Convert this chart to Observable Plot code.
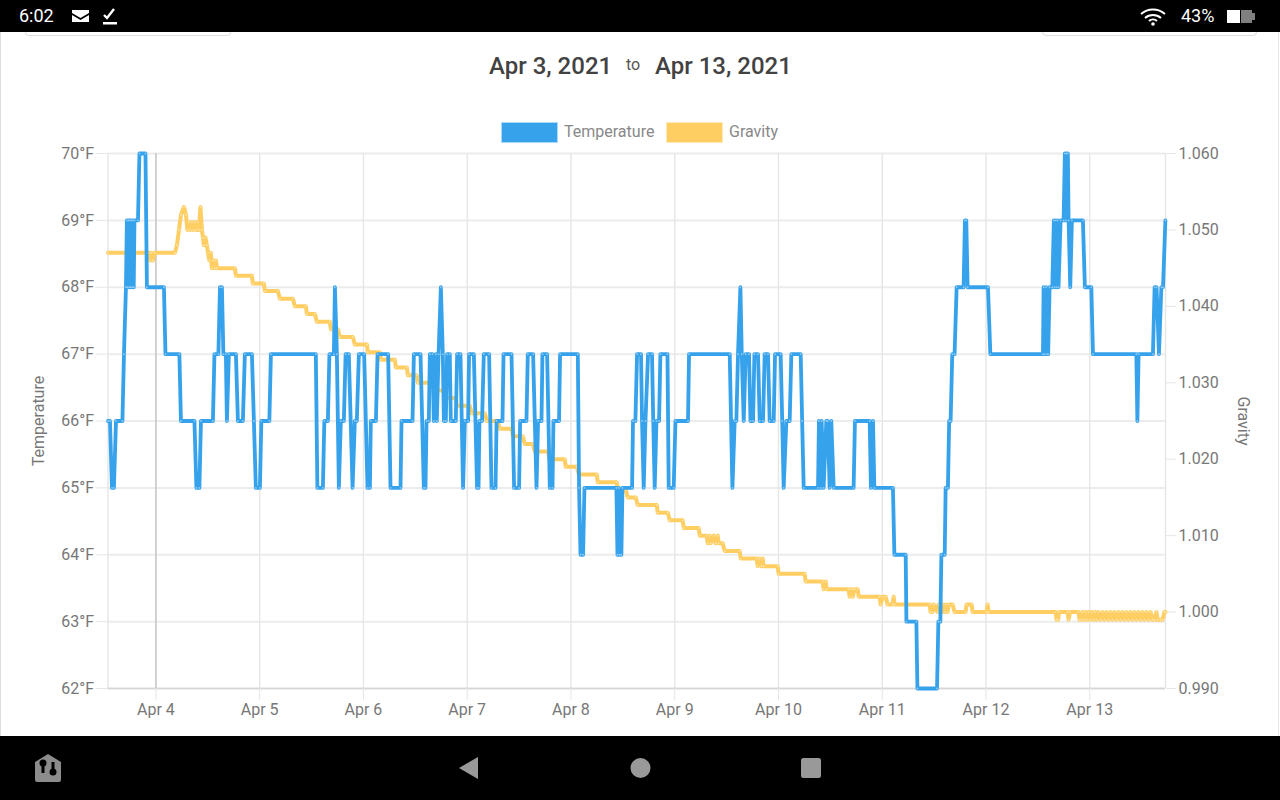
<!DOCTYPE html>
<html><head><meta charset="utf-8">
<script src="https://cdn.jsdelivr.net/npm/d3@7"></script>
<script src="https://cdn.jsdelivr.net/npm/@observablehq/plot@0.6"></script>
<style>
html,body{margin:0;padding:0;background:#fff;width:1280px;height:800px;overflow:hidden;font-family:Roboto,sans-serif}
.a{position:absolute;white-space:nowrap}
#page{position:relative;width:1280px;height:800px;overflow:hidden}
#chart{position:absolute;left:0;top:100px}
#chart svg{display:block;overflow:visible}
</style></head><body>
<div id="page">
<div class="a" style="left:0;top:32px;width:1px;height:704px;background:#ddd"></div>
<div class="a" style="left:1278px;top:32px;width:1px;height:704px;background:#e4e4e4"></div>
<div class="a" style="left:25px;top:26px;width:204px;height:8px;border:1px solid #ddd;border-radius:4px"></div>
<div class="a" style="left:1042px;top:26px;width:213px;height:8px;border:1px solid #ddd;border-radius:4px"></div>
<div class="a" style="left:0;top:0;width:1280px;height:32px;background:#000"></div>
<div class="a" style="left:0;top:736px;width:1280px;height:64px;background:#000"></div>
<div class="a" style="left:19px;top:5px;color:#fff;font-size:18px;line-height:22px">6:02</div>
<div class="a" style="left:1181px;top:5px;color:#fff;font-size:18px;line-height:22px">43%</div>
<svg class="a" style="left:0;top:0" width="1280" height="32">
<path d="M72 10h17v3l-8.5 5-8.5-5z M72 15l8.500 5 8.500-5v7h-17z" fill="#fff"/>
<path d="M104 15l3 3 7-9" fill="none" stroke="#fff" stroke-width="2.400"/><rect x="103" y="22" width="14" height="2.500" fill="#fff"/>
<g fill="none" stroke="#fff" stroke-width="2"><path d="M1141 14a18 18 0 0 1 24 0"/><path d="M1145 18a12 12 0 0 1 16 0"/><path d="M1149 21a6 6 0 0 1 8 0"/></g><circle cx="1153" cy="24" r="1.800" fill="#fff"/>
<rect x="1227" y="10" width="13" height="13" fill="#fff"/><path d="M1241 10h11v3h3v7h-3v3h-11z" fill="#808080"/>
</svg>
<svg class="a" style="left:0;top:736px" width="1280" height="64">
<path d="M35 26l13-8 13 8v18a2 2 0 0 1-2 2h-22a2 2 0 0 1-2-2z" fill="#8c8c8c"/>
<circle cx="43" cy="27" r="3.500" fill="#000"/><rect x="41.500" y="27" width="3" height="10" fill="#000"/>
<circle cx="53" cy="36" r="3.500" fill="#000"/><rect x="51.500" y="26" width="3" height="10" fill="#000"/>
<path d="M459 32l19-11v22z" fill="#999"/><circle cx="640.500" cy="32" r="10" fill="#999"/><rect x="801" y="22" width="20" height="20" rx="2.500" fill="#999"/>
</svg>
<div class="a" style="left:489px;top:51px;font-size:24px;line-height:30px;font-weight:500;color:#424242">Apr 3, 2021</div>
<div class="a" style="left:626px;top:55px;font-size:16px;line-height:20px;color:#555">to</div>
<div class="a" style="left:655px;top:51px;font-size:24px;line-height:30px;font-weight:500;color:#424242">Apr 13, 2021</div>
<div class="a" style="left:501px;top:122px;width:55px;height:19px;background:#36a2eb;border:1px solid #a9d9f8"></div>
<div class="a" style="left:564px;top:122px;font-size:16px;line-height:20px;color:#888">Temperature</div>
<div class="a" style="left:666px;top:122px;width:55px;height:19px;background:#ffce62;border:1px solid #ffe9b8"></div>
<div class="a" style="left:729px;top:122px;font-size:16px;line-height:20px;color:#888">Gravity</div>
<div id="chart"></div>
</div>
<script>
// Readings: [day of April 2021 with fraction, value]
const temperatureReadings = [
[3.538,66],[3.557,66],[3.576,65],[3.595,65],[3.615,66],[3.677,66],[3.692,67],[3.711,68],[3.720,69],[3.727,68],[3.735,69],[3.743,68],[3.750,69],[3.757,68],[3.764,69],[3.771,68],[3.778,69],[3.786,68],[3.793,69],[3.827,69],[3.841,70],[3.899,70],[3.913,68],
[4.077,68],[4.092,67],[4.226,67],[4.241,66],[4.371,66],[4.390,65],[4.419,65],[4.434,66],[4.549,66],[4.564,67],[4.602,67],[4.617,68],[4.636,68],[4.650,67],[4.674,67],[4.684,66],[4.703,67],[4.771,67],[4.790,66],[4.838,66],[4.857,67],[4.925,67],[4.944,66],[4.963,65],
[5.002,65],[5.016,66],[5.093,66],[5.108,67],[5.541,67],[5.556,65],[5.609,65],[5.623,66],[5.657,66],[5.672,67],[5.715,67],[5.725,68],[5.744,67],[5.763,65],[5.782,66],[5.811,66],[5.828,67],[5.859,67],[5.895,65],[5.917,66],[5.936,66],[5.956,67],
[6.007,67],[6.039,65],[6.062,65],[6.071,66],[6.120,66],[6.136,67],[6.238,67],[6.261,65],[6.357,65],[6.367,66],[6.473,66],[6.486,67],[6.550,67],[6.582,65],[6.598,65],[6.608,66],[6.630,66],[6.640,67],[6.666,67],[6.678,66],[6.698,67],[6.707,66],[6.724,67],[6.746,68],[6.765,67],[6.775,66],[6.794,66],[6.806,67],[6.832,67],[6.842,66],[6.890,66],[6.903,67],[6.935,67],[6.960,65],[6.977,66],
[7.009,66],[7.018,67],[7.064,67],[7.095,65],[7.109,65],[7.118,66],[7.143,66],[7.160,67],[7.211,67],[7.234,65],[7.273,65],[7.283,66],[7.340,66],[7.350,67],[7.427,67],[7.452,65],[7.500,65],[7.510,66],[7.571,66],[7.584,67],[7.635,67],[7.668,65],[7.683,66],[7.716,66],[7.725,67],[7.770,67],[7.796,65],[7.822,65],[7.831,66],[7.885,66],[7.895,67],
[8.066,67],[8.078,65],[8.092,64],[8.117,64],[8.130,65],[8.438,65],[8.448,64],[8.460,65],[8.470,64],[8.486,64],[8.496,65],[8.589,65],[8.598,66],[8.621,66],[8.637,67],[8.675,67],[8.685,66],[8.701,65],[8.718,66],[8.743,67],[8.781,67],[8.793,66],[8.807,65],[8.824,66],[8.849,66],[8.862,67],[8.930,67],[8.942,65],[8.990,65],
[9.007,66],[9.128,66],[9.138,67],[9.530,67],[9.556,65],[9.578,66],[9.594,66],[9.610,67],[9.633,68],[9.646,67],[9.665,66],[9.684,67],[9.716,67],[9.730,66],[9.755,66],[9.768,67],[9.803,67],[9.819,66],[9.851,66],[9.867,67],[9.899,67],[9.915,66],[9.954,66],[9.967,67],
[10.021,67],[10.036,66],[10.050,65],[10.076,66],[10.108,66],[10.124,67],[10.214,67],[10.228,66],[10.243,65],[10.381,65],[10.390,66],[10.407,65],[10.416,66],[10.435,65],[10.461,66],[10.474,66],[10.493,65],[10.509,66],[10.532,65],[10.724,65],[10.737,66],[10.879,66],[10.891,65],[10.911,66],[10.924,65],
[11.103,65],[11.117,64],[11.226,64],[11.233,63],[11.329,63],[11.339,62],[11.528,62],[11.541,63],[11.560,63],[11.570,64],[11.602,64],[11.611,65],[11.633,65],[11.645,66],[11.659,66],[11.675,67],[11.697,67],[11.717,68],[11.784,68],[11.797,69],[11.810,69],[11.823,68],
[12.019,68],[12.042,67],[12.549,67],[12.555,68],[12.568,67],[12.579,68],[12.589,67],[12.599,67],[12.613,68],[12.639,68],[12.654,69],[12.661,68],[12.671,69],[12.680,68],[12.690,69],[12.699,68],[12.719,69],[12.748,69],[12.760,70],[12.770,69],[12.777,70],[12.789,70],[12.796,69],[12.812,68],[12.828,69],[12.934,69],[12.953,68],
[13.015,68],[13.031,67],[13.449,67],[13.459,66],[13.471,67],[13.609,67],[13.625,68],[13.644,68],[13.667,67],[13.690,68],[13.706,68],[13.729,69]
];
const gravityReadings = [
[3.538,1.047],[3.933,1.047],[3.942,1.046],[3.957,1.047],[3.971,1.046],[3.986,1.047],[4.183,1.047],[4.202,1.048],[4.222,1.050],[4.241,1.052],[4.270,1.053],[4.289,1.052],[4.303,1.050],[4.318,1.051],[4.332,1.050],[4.347,1.051],[4.361,1.050],[4.376,1.051],[4.390,1.050],[4.405,1.051],[4.414,1.050],[4.429,1.053],[4.443,1.050],[4.453,1.049],[4.462,1.048],[4.477,1.049],[4.491,1.048],[4.501,1.047],[4.515,1.046],[4.530,1.047],[4.539,1.045],[4.554,1.046],[4.568,1.045],[4.578,1.046],[4.588,1.045],[4.761,1.045],[4.771,1.044],[4.925,1.044],[4.934,1.043],
[5.040,1.043],[5.050,1.042],[5.175,1.042],[5.195,1.041],[5.320,1.041],[5.339,1.040],[5.445,1.040],[5.455,1.039],[5.532,1.039],[5.551,1.038],[5.676,1.038],[5.686,1.037],[5.753,1.037],[5.773,1.036],[5.898,1.036],[5.917,1.035],
[6.033,1.035],[6.042,1.034],[6.158,1.034],[6.168,1.033],[6.303,1.033],[6.312,1.032],[6.418,1.032],[6.428,1.031],[6.514,1.031],[6.524,1.030],[6.669,1.030],[6.697,1.029],[6.784,1.029],[6.794,1.028],[6.890,1.028],[6.900,1.027],
[7.025,1.027],[7.044,1.026],[7.170,1.026],[7.189,1.025],[7.295,1.025],[7.314,1.024],[7.430,1.024],[7.439,1.023],[7.536,1.023],[7.555,1.022],[7.632,1.022],[7.651,1.021],[7.777,1.021],[7.796,1.020],[7.940,1.020],[7.950,1.019],
[8.056,1.019],[8.075,1.018],[8.249,1.018],[8.258,1.017],[8.441,1.017],[8.451,1.016],[8.528,1.016],[8.547,1.015],[8.624,1.015],[8.644,1.014],[8.827,1.014],[8.836,1.013],[8.933,1.013],[8.952,1.012],
[9.077,1.012],[9.087,1.011],[9.231,1.011],[9.241,1.010],[9.308,1.010],[9.318,1.009],[9.337,1.010],[9.347,1.009],[9.376,1.010],[9.395,1.009],[9.414,1.010],[9.424,1.009],[9.462,1.009],[9.482,1.008],[9.626,1.008],[9.636,1.007],[9.790,1.007],[9.800,1.006],[9.819,1.007],[9.838,1.006],[9.848,1.007],[9.857,1.006],[9.992,1.006],
[10.002,1.005],[10.252,1.005],[10.262,1.004],[10.426,1.004],[10.435,1.003],[10.455,1.004],[10.464,1.003],[10.676,1.003],[10.686,1.002],[10.705,1.003],[10.715,1.002],[10.734,1.003],[10.763,1.003],[10.773,1.002],[10.975,1.002],[10.985,1.001],
[11.004,1.002],[11.033,1.002],[11.052,1.001],[11.100,1.001],[11.110,1.002],[11.119,1.001],[11.457,1.001],[11.466,1.000],[11.486,1.000],[11.495,1.001],[11.534,1.000],[11.543,1.001],[11.563,1.001],[11.572,1.000],[11.582,1.001],[11.601,1.000],[11.611,1.001],[11.630,1.000],[11.640,1.001],[11.678,1.001],[11.697,1.000],[11.803,1.000],[11.813,1.001],[11.861,1.001],[11.871,1.000],
[12.006,1.000],[12.016,1.001],[12.025,1.000],[12.671,1.000],[12.680,0.999],[12.695,0.999],[12.704,1.000],[12.786,1.000],[12.796,0.999],[12.810,1.000],[12.892,1.000],[12.902,0.999],[12.921,0.999],[12.931,1.000],[12.945,0.999],[12.960,1.000],[12.974,0.999],[12.989,1.000],
[13.003,0.999],[13.018,1.000],[13.037,0.999],[13.052,1.000],[13.066,0.999],[13.085,1.000],[13.104,0.999],[13.124,1.000],[13.143,0.999],[13.162,1.000],[13.181,0.999],[13.201,1.000],[13.220,0.999],[13.239,1.000],[13.258,0.999],[13.278,1.000],[13.297,0.999],[13.316,1.000],[13.335,0.999],[13.354,1.000],[13.374,0.999],[13.393,1.000],[13.412,0.999],[13.431,1.000],[13.451,0.999],[13.470,1.000],[13.489,0.999],[13.508,1.000],[13.528,0.999],[13.547,1.000],[13.566,0.999],[13.586,1.000],[13.605,0.999],[13.624,0.999],[13.643,1.000],[13.653,0.999],[13.682,0.999],[13.701,0.999],[13.720,1.000],[13.730,1.000]
];
const dayTicks = [4,5,6,7,8,9,10,11,12,13];
const temperatureTicks = [62,63,64,65,66,67,68,69,70];
const gravityTicks = [0.990,1.000,1.010,1.020,1.030,1.040,1.050,1.060];
const dayRange = [3.538,13.730];
const markedDay = 4;

const BLUE="#36a2eb", YELLOW="#ffce62", GRIDY="#ececec", GRIDX="#e6e6e6", TEXT="#777";
const toDate = d => new Date(Date.UTC(2021,3,1) + (d-1)*864e5);
// The gravity axis shares the temperature scale: 0.990-1.060 spans 62-70 degrees.
const gravToTemp = g => 62 + (g-0.990)/0.070*8;
const tempToGrav = t => 0.990 + (t-62)/8*0.070;
const row = ([d,v]) => ({date:toDate(d), value:v});
const temps = temperatureReadings.map(row);
const gravs = gravityReadings.map(row).map(r => ({date:r.date, value:gravToTemp(r.value)}));
const dates = dayTicks.map(toDate);

const chart = Plot.plot({
  width:1280, height:636, marginTop:53, marginBottom:48, marginLeft:107.5, marginRight:115,
  style:{fontFamily:"Roboto, sans-serif", fontSize:"16px", background:"transparent", overflow:"visible"},
  x:{type:"utc", domain:dayRange.map(toDate), axis:null},
  y:{domain:[62,70], axis:null},
  marks:[
    Plot.gridY(temperatureTicks,{stroke:GRIDY,strokeOpacity:1,strokeWidth:2}),
    Plot.gridX(dates,{stroke:GRIDX,strokeOpacity:1,strokeWidth:1.4}),
    Plot.ruleX(dayRange.map(toDate),{stroke:GRIDX,strokeWidth:1.4}),
    Plot.ruleY([62],{stroke:"#d6d6d6",strokeWidth:1.4}),
    Plot.axisX({ticks:dates,tickFormat:d3.utcFormat("%b %-d"),tickSize:12,tickPadding:3,stroke:GRIDX,fill:TEXT}),
    Plot.axisY({ticks:temperatureTicks,tickFormat:d=>d+"°F",tickSize:12,tickPadding:2,stroke:GRIDX,fill:TEXT,label:null}),
    Plot.axisY({anchor:"right",ticks:gravityTicks.map(gravToTemp),tickFormat:d=>tempToGrav(d).toFixed(3),tickSize:10,tickPadding:3,stroke:GRIDX,fill:TEXT,label:null}),
    Plot.text(["Temperature"],{frameAnchor:"left",textAnchor:"middle",rotate:-90,dx:-69.5,fill:TEXT,fontSize:16}),
    Plot.text(["Gravity"],{frameAnchor:"right",textAnchor:"middle",rotate:90,dx:77.5,fill:TEXT,fontSize:16}),
    Plot.ruleX([toDate(markedDay)],{stroke:"#bdbdbd",strokeWidth:1.2,y1:62,y2:70}),
    Plot.line(gravs,{x:"date",y:"value",stroke:YELLOW,strokeWidth:4,strokeLinejoin:"round",strokeLinecap:"round"}),
    Plot.dot(gravs,{x:"date",y:"value",r:0.9,fill:"#ffe6ad",stroke:null}),
    Plot.line(temps,{x:"date",y:"value",stroke:BLUE,strokeWidth:3.8,strokeLinejoin:"round",strokeLinecap:"round"}),
    Plot.dot(temps,{x:"date",y:"value",r:0.9,fill:"#8ccbf5",stroke:null})
  ]
});
document.getElementById("chart").appendChild(chart);
</script>
</body></html>
